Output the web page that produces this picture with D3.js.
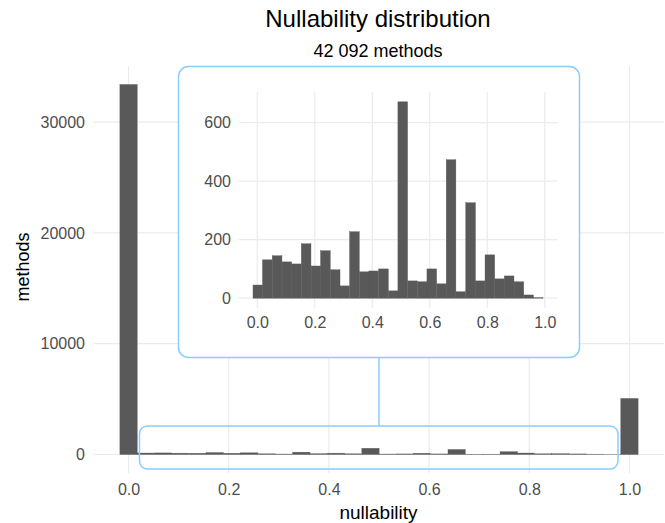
<!DOCTYPE html>
<html>
<head>
<meta charset="utf-8">
<script src="https://cdn.jsdelivr.net/npm/d3@7"></script>
<style>
  body { margin: 0; background: #fff; }
  text { font-family: "Liberation Sans", Arial, sans-serif; }
</style>
</head>
<body>
<svg id="chart" width="665" height="523"></svg>
<script>
// main histogram: 30 bins, centres on 0 and 1
var mainCenters = [0, .034, .069, .103, .138, .172, .207, .241, .276, .310,
                   .345, .379, .414, .448, .483, .517, .552, .586, .621, .655,
                   .690, .724, .759, .793, .828, .862, .897, .931, .966, 1];
var mainCounts = [33400, 130, 140, 120, 110, 170, 110, 150, 60, 40,
                  210, 70, 120, 60, 560, 40, 50, 110, 50, 450,
                  25, 30, 250, 130, 60, 70, 50, 30, 8, 5060];
var mainBinWidth = 0.0345;

// inset: methods strictly between 0 and 1
var insetCenters = [.002, .035, .069, .103, .136, .170, .204, .237, .271, .304,
                    .338, .372, .405, .439, .473, .506, .540, .574, .607, .641,
                    .674, .708, .742, .775, .809, .843, .876, .910, .944, .977];
var insetCounts = [45, 131, 145, 124, 117, 186, 110, 162, 97, 42,
                   227, 90, 93, 100, 25, 671, 59, 56, 100, 49,
                   473, 22, 326, 59, 148, 66, 76, 56, 11, 2];
var insetBinWidth = 0.0336;

var xTicks = [0, 0.2, 0.4, 0.6, 0.8, 1.0];
var mainYTicks = [0, 10000, 20000, 30000];
var insetYTicks = [0, 200, 400, 600];

var title = "Nullability distribution";
var subtitle = "42 092 methods";
var xTitle = "nullability";
var yTitle = "methods";

var barColor = "#595959";
var gridColor = "#ebebeb";
var tickColor = "#4d4d4d";
var boxColor = "#87cefa";

var svg = d3.select("#chart");

// ggplot style 5% expansion
function expand(lo, hi) { var d = (hi - lo) * 0.05; return [lo - d, hi + d]; }

function panel(g, centers, counts, bw, yTicks, box, fontSize, pads) {
    var x = d3.scaleLinear()
        .domain(expand(centers[0] - bw / 2, centers[centers.length - 1] + bw / 2))
        .range([box.left, box.right]);
    var y = d3.scaleLinear()
        .domain(expand(0, d3.max(counts)))
        .range([box.bottom, box.top]);

    g.selectAll(".vgrid").data(xTicks).enter().append("line")
        .attr("x1", function(d){ return x(d); }).attr("x2", function(d){ return x(d); })
        .attr("y1", box.top).attr("y2", box.bottom)
        .attr("stroke", gridColor).attr("stroke-width", 1.2);
    g.selectAll(".hgrid").data(yTicks).enter().append("line")
        .attr("y1", function(d){ return y(d); }).attr("y2", function(d){ return y(d); })
        .attr("x1", box.left).attr("x2", box.right)
        .attr("stroke", gridColor).attr("stroke-width", 1.2);

    g.selectAll(".bar").data(counts).enter().append("rect")
        .attr("x", function(d, i){ return x(centers[i] - bw / 2); })
        .attr("width", function(d, i){ return x(centers[i] + bw / 2) - x(centers[i] - bw / 2); })
        .attr("y", function(d){ return y(d); })
        .attr("height", function(d){ return y(0) - y(d); })
        .attr("fill", barColor)
        .attr("stroke", barColor).attr("stroke-width", 0.4);

    var xa = g.append("g").attr("transform", "translate(0," + box.bottom + ")")
        .call(d3.axisBottom(x).tickValues(xTicks).tickFormat(d3.format(".1f")).tickSize(0).tickPadding(pads[0]));
    var ya = g.append("g").attr("transform", "translate(" + box.left + ",0)")
        .call(d3.axisLeft(y).tickValues(yTicks).tickFormat(d3.format("d")).tickSize(0).tickPadding(pads[1]));
    [xa, ya].forEach(function(a){
        a.select(".domain").remove();
        a.selectAll("text").attr("fill", tickColor).style("font-size", fontSize + "px")
            .style("font-family", "'Liberation Sans', Arial, sans-serif");
    });
    return { x: x, y: y };
}

// main panel
panel(svg.append("g"), mainCenters, mainCounts, mainBinWidth, mainYTicks,
      { left: 94, right: 664, top: 66, bottom: 473 }, 16, [10.6, 9]);

// lower highlight box and connector
svg.append("rect").attr("x", 139.5).attr("y", 426).attr("width", 478.5).attr("height", 43)
    .attr("rx", 8).attr("fill", "none").attr("stroke", boxColor).attr("stroke-width", 1.5);
svg.append("line").attr("x1", 379).attr("x2", 379).attr("y1", 357).attr("y2", 426)
    .attr("stroke", boxColor).attr("stroke-width", 1.5);

// inset
svg.append("rect").attr("x", 178.5).attr("y", 66.5).attr("width", 401).attr("height", 291)
    .attr("rx", 10).attr("fill", "#fff").attr("stroke", boxColor).attr("stroke-width", 1.5);
panel(svg.append("g"), insetCenters, insetCounts, insetBinWidth, insetYTicks,
      { left: 238.5, right: 557.5, top: 92, bottom: 308 }, 16, [8.6, 7.5]);

// titles
svg.append("text").attr("x", 378).attr("y", 26.5).attr("text-anchor", "middle")
    .style("font-size", "24px").attr("fill", "#000").text(title);
svg.append("text").attr("x", 378).attr("y", 57).attr("text-anchor", "middle")
    .style("font-size", "18px").attr("fill", "#000").text(subtitle);
svg.append("text").attr("x", 378.5).attr("y", 519).attr("text-anchor", "middle")
    .style("font-size", "19px").attr("fill", "#000").text(xTitle);
svg.append("text").attr("transform", "translate(29,267) rotate(-90)").attr("text-anchor", "middle")
    .style("font-size", "18px").attr("fill", "#000").text(yTitle);
</script>
</body>
</html>
